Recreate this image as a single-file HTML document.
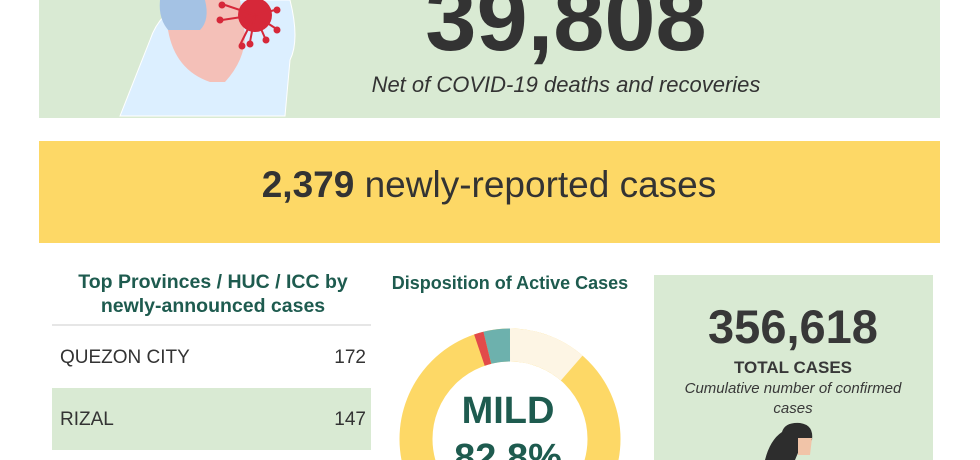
<!DOCTYPE html>
<html><head><meta charset="utf-8"><style>
html,body{margin:0;width:980px;height:460px;overflow:hidden;background:#fff;font-family:"Liberation Sans",sans-serif}
svg{display:block}
svg text{font-family:"Liberation Sans",sans-serif}
</style></head><body>
<svg width="980" height="460" viewBox="0 0 980 460" xmlns="http://www.w3.org/2000/svg">
<rect x="39" y="0" width="901" height="118" fill="#d9ead3"/>
<path d="M120 116 L150 40 Q160 10 190 0 L290 0 Q300 40 290 60 L285 116 Z" fill="#dcefff" stroke="#fff" stroke-width="1"/>
<path d="M160 0 L212 0 Q215 25 200 32 L170 32 Q158 20 160 0 Z" fill="#a4c2e4"/>
<path d="M168 30 Q175 70 210 82 L225 82 Q245 60 245 35 L240 0 L205 0 Q210 20 200 30 Z" fill="#f4c0b8"/>
<circle cx="255" cy="15" r="17" fill="#d62839"/>
<g stroke="#d62839" stroke-width="2" fill="#d62839">
<line x1="255" y1="15" x2="275" y2="10"/><circle cx="277" cy="10" r="2.5"/>
<line x1="255" y1="15" x2="275" y2="28"/><circle cx="277" cy="30" r="2.5"/>
<line x1="255" y1="15" x2="265" y2="38"/><circle cx="266" cy="40" r="2.5"/>
<line x1="255" y1="15" x2="250" y2="42"/><circle cx="250" cy="44" r="2.5"/>
<line x1="255" y1="15" x2="240" y2="45"/><circle cx="242" cy="46" r="2.5"/>
<line x1="255" y1="15" x2="222" y2="20"/><circle cx="220" cy="20" r="2.5"/>
<line x1="255" y1="15" x2="225" y2="5"/><circle cx="222" cy="5" r="2.5"/>
</g>
<text x="566" y="50" text-anchor="middle" font-size="92" font-weight="bold" fill="#333">39,808</text>
<text x="566" y="92" text-anchor="middle" font-size="22" font-style="italic" fill="#333">Net of COVID-19 deaths and recoveries</text>
<rect x="39" y="141" width="901" height="102" fill="#fdd866"/>
<text x="489" y="197" text-anchor="middle" font-size="37" fill="#333"><tspan font-weight="bold">2,379</tspan> newly-reported cases</text>
<text x="213" y="288" text-anchor="middle" font-size="19.5" font-weight="bold" fill="#1e5b4f">Top Provinces / HUC / ICC by</text>
<text x="213" y="312" text-anchor="middle" font-size="19.5" font-weight="bold" fill="#1e5b4f">newly-announced cases</text>
<line x1="52" y1="325" x2="371" y2="325" stroke="#ccc"/>
<text x="60" y="363" font-size="19" fill="#333">QUEZON CITY</text>
<text x="366" y="363" text-anchor="end" font-size="19" fill="#333">172</text>
<rect x="52" y="388" width="319" height="62" fill="#d9ead3"/>
<text x="60" y="425" font-size="19" fill="#333">RIZAL</text>
<text x="366" y="425" text-anchor="end" font-size="19" fill="#333">147</text>
<text x="510" y="289" text-anchor="middle" font-size="18" font-weight="bold" fill="#1e5b4f">Disposition of Active Cases</text>
<g transform="translate(510,439)" fill="none" stroke-width="33">
<circle r="94" stroke="#fdd866"/>
<path d="M0 -94 A94 94 0 0 1 61.7 -70.9" stroke="#fdf5e4"/>
<path d="M-22.7 -91.2 A94 94 0 0 1 0 -94" stroke="#6db1ad"/>
<path d="M-30.6 -88.9 A94 94 0 0 1 -22.7 -91.2" stroke="#e24a4a"/>
</g>
<text x="508" y="423" text-anchor="middle" font-size="38" font-weight="bold" fill="#1e5b4f">MILD</text>
<text x="508" y="470" text-anchor="middle" font-size="38" font-weight="bold" fill="#1e5b4f">82.8%</text>
<rect x="654" y="275" width="279" height="185" fill="#d9ead3"/>
<text x="793" y="343" text-anchor="middle" font-size="47" font-weight="bold" fill="#383838">356,618</text>
<text x="793" y="373" text-anchor="middle" font-size="17" font-weight="bold" fill="#383838">TOTAL CASES</text>
<text x="793" y="393" text-anchor="middle" font-size="15" font-style="italic" fill="#383838">Cumulative number of confirmed</text>
<text x="793" y="413" text-anchor="middle" font-size="15" font-style="italic" fill="#383838">cases</text>
<path d="M765 460 Q770 440 782 432 Q785 422 800 423 Q814 425 812 440 L800 448 L795 460 Z" fill="#2d2d2d"/>
<path d="M798 438 L812 438 L810 455 L798 455 Z" fill="#f1c4a8"/>
</svg>
</body></html>
